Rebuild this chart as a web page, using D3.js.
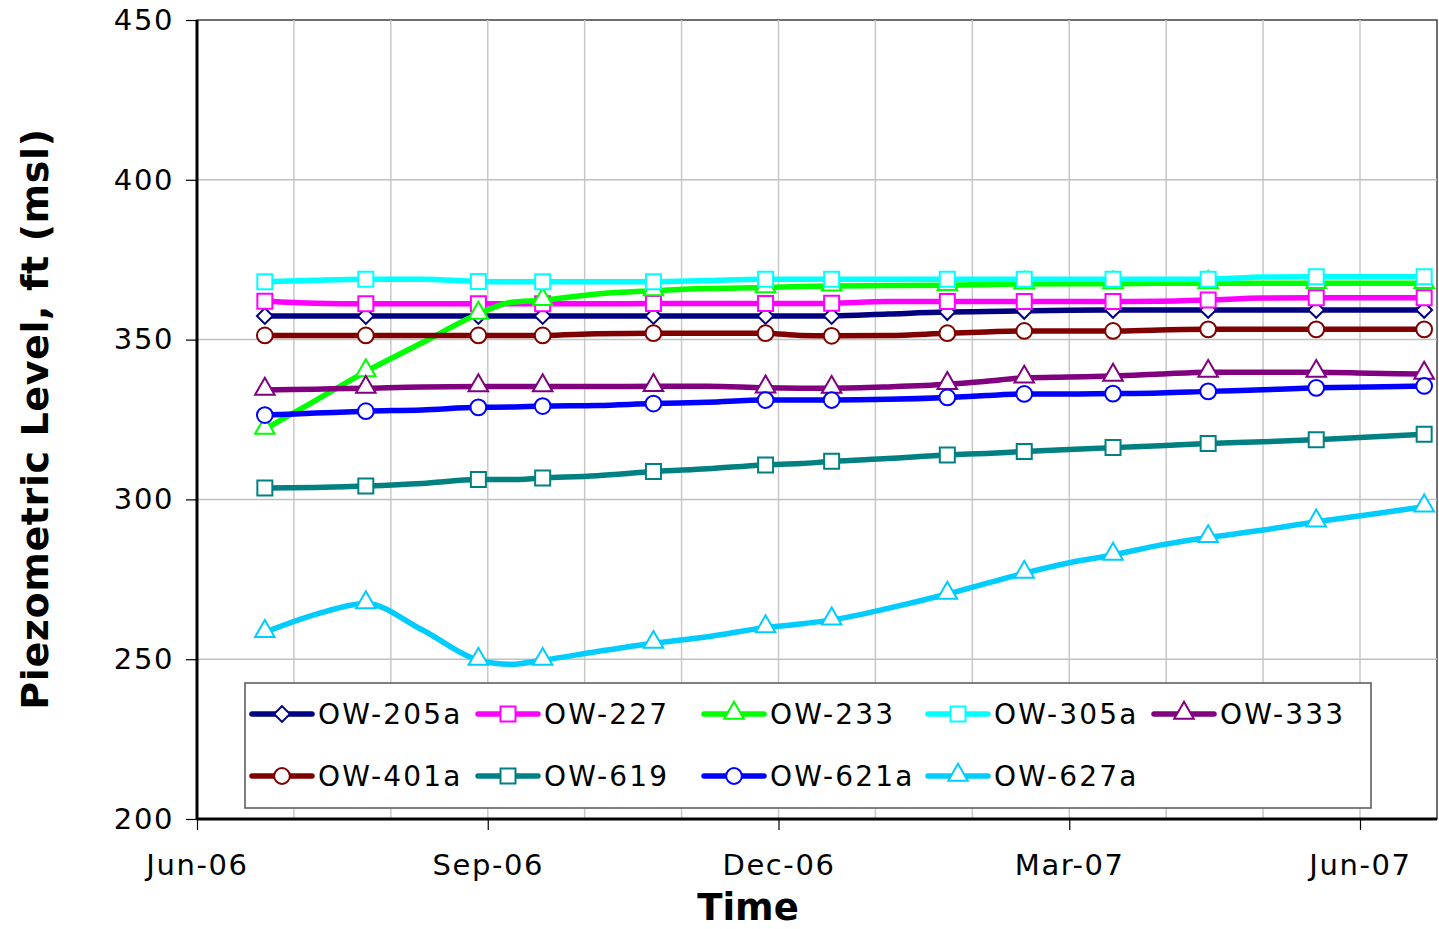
<!DOCTYPE html>
<html>
<head>
<meta charset="utf-8">
<script src="https://cdn.jsdelivr.net/npm/d3@7"></script>
<style>
  body { margin: 0; background: #fff; }
  svg { display: block; font-family: "DejaVu Sans", Verdana, sans-serif; }
</style>
</head>
<body>
<svg id="chart" width="1439" height="929"></svg>
<script>
// sample dates (markers sit on every other one)
const dates = ["2006-06-22","2006-07-08","2006-07-24","2006-08-11","2006-08-29","2006-09-08",
  "2006-09-18","2006-10-05","2006-10-23","2006-11-09","2006-11-27","2006-12-08","2006-12-18",
  "2007-01-05","2007-01-24","2007-02-05","2007-02-16","2007-03-01","2007-03-15","2007-03-30",
  "2007-04-14","2007-05-01","2007-05-18","2007-06-04","2007-06-21"];
const markerIdx = [0,2,4,6,8,10,12,14,16,18,20,22,24];

const wellNames = ["OW-205a","OW-227","OW-233","OW-305a","OW-333","OW-401a","OW-619","OW-621a","OW-627a"];
const wellColors = ["#000080","#ff00ff","#00ff00","#00ffff","#800080","#800000","#008080","#0000ff","#00ccff"];
const wellMarkers = ["diamond","square","triangle","square","triangle","circle","square","circle","triangle"];

const ow205a = [357.4,357.4,357.4,357.4,357.4,357.4,357.4,357.4,357.4,357.4,357.4,357.4,357.4,358.0,358.6,358.8,359.0,359.2,359.3,359.3,359.3,359.3,359.3,359.3,359.3];
const ow227  = [362.0,361.4,361.2,361.2,361.2,361.2,361.2,361.2,361.3,361.3,361.3,361.3,361.4,361.9,361.9,361.9,361.9,361.9,361.9,362.0,362.4,363.0,363.1,363.1,363.1];
const ow233  = [322.0,331.0,340.0,349.0,358.0,361.6,362.3,364.3,365.3,366.0,366.3,366.6,366.8,366.9,367.0,367.2,367.4,367.5,367.5,367.6,367.6,367.6,367.6,367.6,367.6];
const ow305a = [368.1,368.6,368.9,368.9,368.2,368.1,368.1,368.1,368.1,368.5,368.9,368.9,368.9,368.9,368.9,368.9,368.9,368.9,368.9,368.9,368.9,369.6,369.7,369.7,369.7];
const ow333  = [334.2,334.5,334.8,335.2,335.3,335.3,335.3,335.3,335.4,335.4,334.9,334.8,334.8,335.2,336.0,337.0,338.0,338.3,338.6,339.2,339.8,339.8,339.8,339.5,339.2];
const ow401a = [351.3,351.3,351.3,351.3,351.3,351.3,351.3,351.8,352.0,352.0,352.0,351.3,351.2,351.3,352.0,352.4,352.7,352.7,352.7,353.0,353.2,353.2,353.2,353.2,353.2];
const ow619  = [303.6,303.7,304.2,305.0,306.2,306.2,306.7,307.4,308.7,309.6,310.8,311.2,311.9,312.8,313.9,314.4,315.0,315.6,316.2,316.8,317.5,318.0,318.7,319.5,320.4];
const ow621a = [326.4,327.0,327.6,328.0,328.8,328.9,329.2,329.4,330.0,330.4,331.1,331.1,331.1,331.3,331.9,332.5,333.0,333.0,333.1,333.3,333.8,334.3,334.9,335.2,335.5];
const ow627a = [258.4,264.0,267.4,259.2,249.7,248.4,249.7,252.4,255.0,257.0,259.9,261.0,262.3,265.9,270.4,273.7,276.9,280.2,282.6,285.7,288.1,290.4,293.0,295.3,297.7];
const wellValues = [ow205a, ow227, ow233, ow305a, ow333, ow401a, ow619, ow621a, ow627a];

const yTicks = [200, 250, 300, 350, 400, 450];
const xTickLabels = ["Jun-06","Sep-06","Dec-06","Mar-07","Jun-07"];

const svg = d3.select("#chart");
const plot = {left: 197, right: 1437, top: 20, bottom: 819};

const parse = d3.timeParse("%Y-%m-%d");
const months = d3.timeMonth.range(new Date(2006, 5, 1), new Date(2007, 5, 2));
const monthW = (1360 - plot.left) / 12;
// months are spaced evenly, like the original
const x = d3.scaleTime()
    .domain(months.concat([new Date(2007, 5, 25)]))
    .range(months.map((d, i) => plot.left + i * monthW).concat([plot.right]));
const y = d3.scaleLinear().domain([200, 450]).range([plot.bottom, plot.top]);

// plot area
svg.append("rect")
    .attr("x", plot.left).attr("y", plot.top)
    .attr("width", plot.right - plot.left).attr("height", plot.bottom - plot.top)
    .style("fill", "#fff").style("stroke", "#404040").style("stroke-width", 1.5);

// grid
svg.append("g").selectAll("line")
    .data(months.slice(1))
    .join("line")
    .attr("x1", d => x(d)).attr("x2", d => x(d))
    .attr("y1", plot.top).attr("y2", plot.bottom)
    .style("stroke", "#c8c8c8").style("stroke-width", 1.5);
svg.append("g").selectAll("line")
    .data(yTicks.slice(1, -1))
    .join("line")
    .attr("x1", plot.left).attr("x2", plot.right)
    .attr("y1", d => y(d)).attr("y2", d => y(d))
    .style("stroke", "#c0c0c0").style("stroke-width", 1.5);

// axes
const yAxis = svg.append("g")
    .attr("transform", `translate(${plot.left},0)`)
    .call(d3.axisLeft(y).tickValues(yTicks).tickSize(11).tickPadding(12));
const quarterTicks = months.filter((d, i) => i % 3 === 0);
const xAxis = svg.append("g")
    .attr("transform", `translate(0,${plot.bottom})`)
    .call(d3.axisBottom(x).tickValues(quarterTicks).tickSize(11).tickPadding(24)
        .tickFormat((d, i) => xTickLabels[i]));
[yAxis, xAxis].forEach(a => {
    a.select(".domain").style("stroke", "#000").style("stroke-width", 3);
    a.selectAll(".tick line").style("stroke", "#000").style("stroke-width", 1.2);
    a.selectAll("text").style("font-size", "29px").style("fill", "#000")
        .style("letter-spacing", "1.6px")
        .style("font-family", "'DejaVu Sans', Verdana, sans-serif");
});
xAxis.select(".domain").attr("d", `M${plot.left},0H${plot.right}`);
yAxis.select(".domain").attr("d", `M0,${plot.bottom}V${plot.top}`);

// titles
svg.append("text")
    .attr("x", 748).attr("y", 920)
    .attr("text-anchor", "middle")
    .style("font-size", "37px").style("font-weight", "bold")
    .text("Time");
svg.append("text")
    .attr("transform", "translate(48,419) rotate(-90)")
    .attr("text-anchor", "middle")
    .style("font-size", "38px").style("font-weight", "bold")
    .style("letter-spacing", "0.6px")
    .text("Piezometric Level, ft (msl)");

// markers
const symbolFor = {
    diamond: d3.symbol(d3.symbolSquare, 125),
    square: d3.symbol(d3.symbolSquare, 225),
    triangle: d3.symbol(d3.symbolTriangle, 165),
    circle: d3.symbol(d3.symbolCircle, 195)
};
function drawMarker(g, type, color) {
    const p = g.append("path")
        .attr("d", symbolFor[type]())
        .style("fill", "#fff").style("stroke", color).style("stroke-width", 2);
    if (type === "diamond") p.attr("transform", "rotate(45)");
    if (type === "triangle") p.attr("transform", "translate(0,-1)");
}

const line = d3.line()
    .x(d => x(d.date))
    .y(d => y(d.value))
    .curve(d3.curveMonotoneX);

const chart = svg.append("g");
wellNames.forEach((name, k) => {
    const pts = dates.map((d, i) => ({date: parse(d), value: wellValues[k][i]}));
    chart.append("path")
        .datum(pts)
        .attr("d", line)
        .style("fill", "none")
        .style("stroke", wellColors[k])
        .style("stroke-width", 5.5)
        .style("stroke-linejoin", "round");
    markerIdx.forEach(i => {
        const g = chart.append("g")
            .attr("transform", `translate(${x(pts[i].date)},${y(pts[i].value)})`);
        drawMarker(g, wellMarkers[k], wellColors[k]);
    });
});

// legend
const legend = svg.append("g").attr("transform", "translate(245,683)");
legend.append("rect")
    .attr("width", 1126).attr("height", 125)
    .style("fill", "#fff").style("stroke", "#555").style("stroke-width", 1.5);
const colX = [7, 233, 459, 683, 909];
wellNames.forEach((name, k) => {
    const g = legend.append("g")
        .attr("transform", `translate(${colX[k % 5]},${k < 5 ? 31 : 93})`);
    g.append("line")
        .attr("x1", 0).attr("x2", 60)
        .style("stroke", wellColors[k]).style("stroke-width", 5.5)
        .style("stroke-linecap", "round");
    const m = g.append("g").attr("transform", "translate(30,0)");
    drawMarker(m, wellMarkers[k], wellColors[k]);
    g.append("text")
        .attr("x", 66).attr("y", 10)
        .style("font-size", "28px")
        .style("letter-spacing", "2.2px")
        .text(name);
});
</script>
</body>
</html>
